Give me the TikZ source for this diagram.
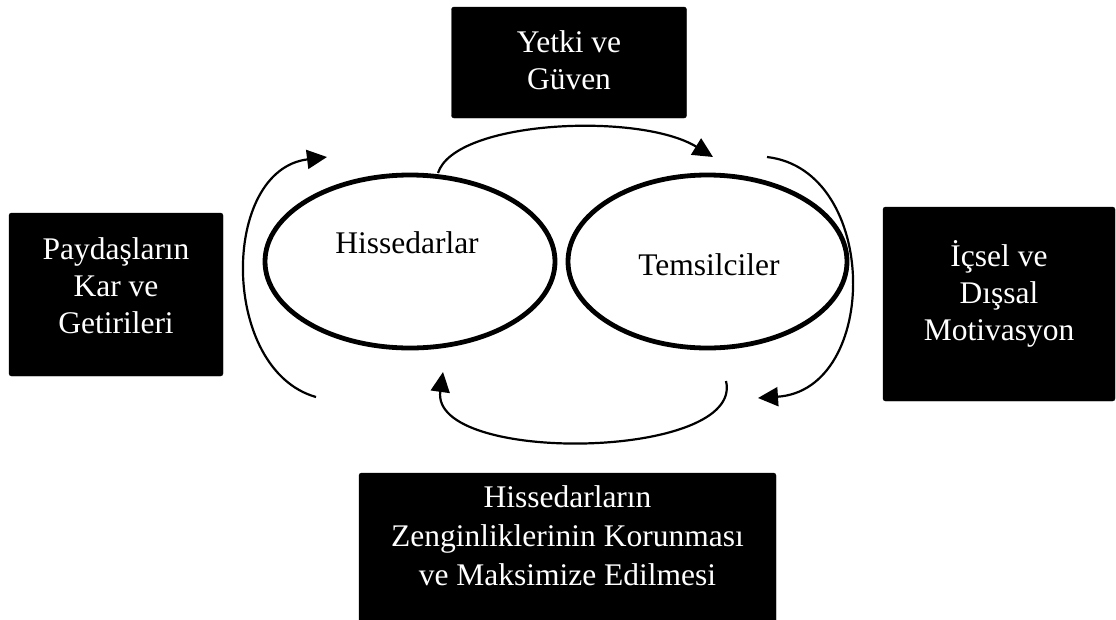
\documentclass[tikz,border=0pt]{standalone}
\usepackage{fontspec}
\setmainfont{Liberation Serif}
\usetikzlibrary{arrows.meta,shapes.geometric}
\begin{document}
\begin{tikzpicture}[x=1pt,y=-1pt,
  blackbox/.style={draw=black,fill=black,rounded corners=2.5pt,inner sep=0pt},
  boxtext/.style={text=white,align=center,font=\fontsize{31.5}{37}\selectfont,inner sep=0pt},
  ell/.style={draw=black,line width=4.8pt,ellipse,inner sep=0pt},
  lbl/.style={font=\fontsize{31.5}{37}\selectfont,anchor=base},
  arc/.style={line width=2.2pt,-{Triangle[length=20pt,width=19pt]}}]
\useasboundingbox (0,0) rectangle (1116,619);
\node[blackbox,minimum width=235pt,minimum height=111pt] (yg) at (569,62.5) {};
\node[boxtext] (ygt) at (569,60.5) {Yetki ve\\Güven};
\node[blackbox,minimum width=214pt,minimum height=163pt] (pk) at (116,294.5) {};
\node[boxtext] (pkt) at (116,285.5) {Paydaşların\\Kar ve\\Getirileri};
\node[blackbox,minimum width=232pt,minimum height=194pt] (im) at (999,304) {};
\node[boxtext] (imt) at (999,293.5) {İçsel ve\\Dışsal\\Motivasyon};
\node[blackbox,minimum width=417pt,minimum height=150pt] (hz) at (567.5,548) {};
\node[boxtext,font=\fontsize{31.5}{39}\selectfont] (hzt) at (567.5,536) {Hissedarların\\Zenginliklerinin Korunması\\ve Maksimize Edilmesi};
\node[ell,minimum width=290pt,minimum height=173pt] (h) at (410,261.5) {};
\node[ell,minimum width=279pt,minimum height=173pt] (t) at (707.5,261.5) {};
\node[lbl] (ht) at (407,253) {Hissedarlar};
\node[lbl] (tt) at (709,275) {Temsilciler};
\coordinate (a1s) at (438,173);
\coordinate (a1e) at (713,157);
\coordinate (a2s) at (767,157);
\coordinate (a2e) at (758,398);
\coordinate (a3s) at (726,381);
\coordinate (a3e) at (443,372);
\coordinate (a4s) at (316,397);
\coordinate (a4e) at (327,157);
\draw[arc] (a1s) .. controls (455,120) and (640,112) .. (a1e);
\draw[arc] (a2s) .. controls (880,170) and (880,390) .. (a2e);
\draw[arc] (a3s) .. controls (745,460) and (430,465) .. (a3e);
\draw[arc] (a4s) .. controls (220,370) and (220,170) .. (a4e);
\end{tikzpicture}
\end{document}
